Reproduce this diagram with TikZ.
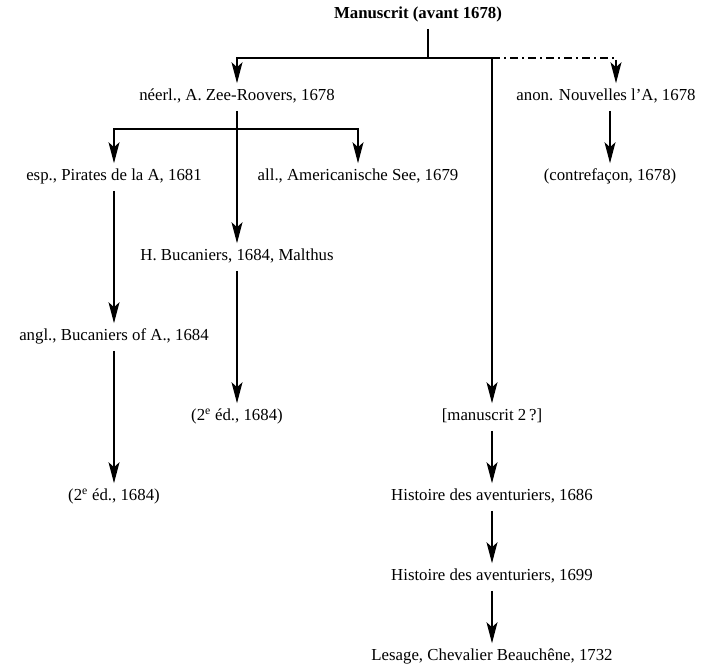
\documentclass[tikz,border=0pt]{standalone}
\usepackage{fontspec}
\setmainfont{Liberation Serif}
\usetikzlibrary{arrows.meta}

\begin{document}
\begin{tikzpicture}[
    x = 1pt, y = -1pt,
    line width = 1.1pt,
    >={Stealth[length=21pt, width=11pt, inset=5pt]},
    ed/.style = {
      font = \fontsize{16.8}{19}\selectfont,
      inner xsep = 2pt,
      inner ysep = 6pt,
      text height = 11pt,
      text depth = 3.5pt
    },
    dd/.style = {
      line width = 1.2pt,
      dash pattern = on 8pt off 4pt on 2pt off 4pt
    }
  ]
  \useasboundingbox (0,0) rectangle (718,669);

  \node[ed, font=\fontsize{16.8}{19}\selectfont\bfseries] (ms) at (418,15) {Manuscrit (avant 1678)};

  \node[ed] (neerl)   at (237,97)  {néerl., A. Zee-Roovers, 1678};
  \node[ed] (anon)    at (606,97)  {anon. Nouvelles l’A, 1678};
  \node[ed] (esp)     at (114,177) {esp., Pirates de la A, 1681};
  \node[ed] (all)     at (358,177) {all., Americanische See, 1679};
  \node[ed] (contref) at (610,177) {(contrefaçon, 1678)};
  \node[ed] (hbuc)    at (237,257) {H. Bucaniers, 1684, Malthus};
  \node[ed] (angl)    at (114,337) {angl., Bucaniers of A., 1684};
  \node[ed] (edb)     at (237,417) {(2\textsuperscript{e} éd., 1684)};
  \node[ed] (ms2)     at (492,417) {[manuscrit 2\,?]};
  \node[ed] (eda)     at (114,497) {(2\textsuperscript{e} éd., 1684)};
  \node[ed] (hist86)  at (492,497) {Histoire des aventuriers, 1686};
  \node[ed] (hist99)  at (492,577) {Histoire des aventuriers, 1699};
  \node[ed] (lesage)  at (492,657) {Lesage, Chevalier Beauchêne, 1732};

  \coordinate (top) at (428,58);
  \coordinate (nsplit) at (237,129);

  \draw (top |- ms.south) -- (top);
  \draw[->] (top) -| (neerl);
  \draw[->] (top) -| (ms2);
  \draw[->, dd] (top -| ms2) -| ([xshift=10pt]anon.north);

  \draw[->] (neerl) -- (hbuc);
  \draw[->] (nsplit) -| (esp);
  \draw[->] (nsplit) -| (all);
  \draw[->] (anon.south -| contref) -- (contref);

  \draw[->] (esp) -- (angl);
  \draw[->] (angl) -- (eda);
  \draw[->] (hbuc) -- (edb);

  \draw[->] (ms2) -- (hist86);
  \draw[->] (hist86) -- (hist99);
  \draw[->] (hist99) -- (lesage);
\end{tikzpicture}
\end{document}
